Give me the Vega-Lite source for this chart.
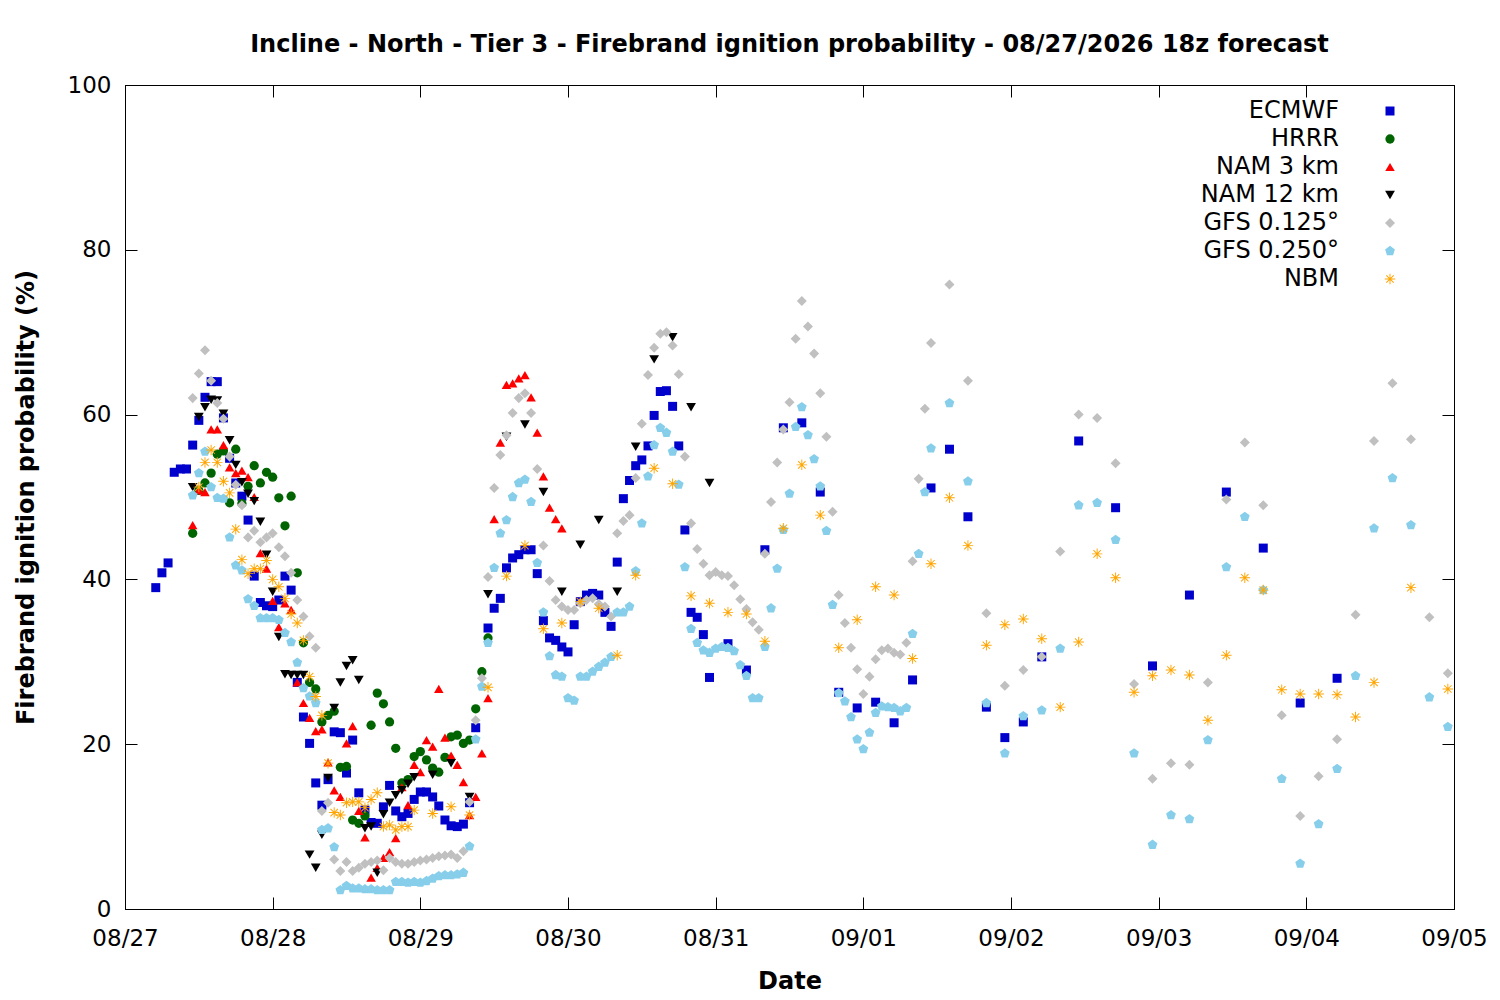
{
  "$schema": "https://vega.github.io/schema/vega-lite/v6.json",
  "width": 1329,
  "height": 824,
  "autosize": "none",
  "padding": {"left": 125, "top": 85, "right": 46, "bottom": 91},
  "background": "white",
  "title": {
    "text": "Incline - North - Tier 3 - Firebrand ignition probability - 08/27/2026 18z forecast",
    "fontSize": 24,
    "fontWeight": "bold",
    "font": "DejaVu Sans",
    "color": "black",
    "anchor": "middle",
    "offset": 17
  },
  "config": {
    "font": "DejaVu Sans",
    "view": {"stroke": "black", "strokeWidth": 1},
    "axis": {
      "grid": false,
      "labelFontSize": 23,
      "labelColor": "black",
      "titleFontSize": 24,
      "titleFontWeight": "bold",
      "titleColor": "black",
      "domainColor": "black",
      "tickColor": "black",
      "tickSize": -12,
      "labelFont": "DejaVu Sans",
      "titleFont": "DejaVu Sans"
    }
  },
  "datasets": {
    "forecast": [
      {"model":"ECMWF","hour":5,"prob":39.0},{"model":"ECMWF","hour":6,"prob":40.8},{"model":"ECMWF","hour":7,"prob":42.0},{"model":"ECMWF","hour":8,"prob":53.0},{"model":"ECMWF","hour":9,"prob":53.4},{"model":"ECMWF","hour":10,"prob":53.4},{"model":"ECMWF","hour":11,"prob":56.3},{"model":"ECMWF","hour":12,"prob":59.3},{"model":"ECMWF","hour":13,"prob":62.1},{"model":"ECMWF","hour":14,"prob":64.0},{"model":"ECMWF","hour":15,"prob":64.0},{"model":"ECMWF","hour":16,"prob":59.6},{"model":"ECMWF","hour":17,"prob":54.7},{"model":"ECMWF","hour":18,"prob":51.7},{"model":"ECMWF","hour":19,"prob":50.1},{"model":"ECMWF","hour":20,"prob":47.2},{"model":"ECMWF","hour":21,"prob":40.4},{"model":"ECMWF","hour":22,"prob":37.2},{"model":"ECMWF","hour":23,"prob":36.8},{"model":"ECMWF","hour":24,"prob":36.7},{"model":"ECMWF","hour":25,"prob":37.5},{"model":"ECMWF","hour":26,"prob":40.4},{"model":"ECMWF","hour":27,"prob":38.7},{"model":"ECMWF","hour":28,"prob":27.5},{"model":"ECMWF","hour":29,"prob":23.3},{"model":"ECMWF","hour":30,"prob":20.1},{"model":"ECMWF","hour":31,"prob":15.3},{"model":"ECMWF","hour":32,"prob":12.6},{"model":"ECMWF","hour":33,"prob":15.7},{"model":"ECMWF","hour":34,"prob":21.5},{"model":"ECMWF","hour":35,"prob":21.4},{"model":"ECMWF","hour":36,"prob":16.5},{"model":"ECMWF","hour":37,"prob":20.5},{"model":"ECMWF","hour":38,"prob":14.1},{"model":"ECMWF","hour":39,"prob":12.0},{"model":"ECMWF","hour":40,"prob":10.5},{"model":"ECMWF","hour":41,"prob":10.4},{"model":"ECMWF","hour":42,"prob":12.4},{"model":"ECMWF","hour":43,"prob":15.0},{"model":"ECMWF","hour":44,"prob":11.9},{"model":"ECMWF","hour":45,"prob":11.2},{"model":"ECMWF","hour":46,"prob":11.6},{"model":"ECMWF","hour":47,"prob":13.3},{"model":"ECMWF","hour":48,"prob":14.2},{"model":"ECMWF","hour":49,"prob":14.2},{"model":"ECMWF","hour":50,"prob":13.6},{"model":"ECMWF","hour":51,"prob":12.5},{"model":"ECMWF","hour":52,"prob":10.8},{"model":"ECMWF","hour":53,"prob":10.1},{"model":"ECMWF","hour":54,"prob":10.0},{"model":"ECMWF","hour":55,"prob":10.3},{"model":"ECMWF","hour":56,"prob":12.9},{"model":"ECMWF","hour":57,"prob":22.0},{"model":"ECMWF","hour":59,"prob":34.1},{"model":"ECMWF","hour":60,"prob":36.5},{"model":"ECMWF","hour":61,"prob":37.7},{"model":"ECMWF","hour":62,"prob":41.4},{"model":"ECMWF","hour":63,"prob":42.6},{"model":"ECMWF","hour":64,"prob":43.0},{"model":"ECMWF","hour":65,"prob":43.6},{"model":"ECMWF","hour":66,"prob":43.6},{"model":"ECMWF","hour":67,"prob":40.7},{"model":"ECMWF","hour":68,"prob":35.0},{"model":"ECMWF","hour":69,"prob":32.9},{"model":"ECMWF","hour":70,"prob":32.6},{"model":"ECMWF","hour":71,"prob":31.8},{"model":"ECMWF","hour":72,"prob":31.2},{"model":"ECMWF","hour":73,"prob":34.5},{"model":"ECMWF","hour":74,"prob":37.3},{"model":"ECMWF","hour":75,"prob":38.1},{"model":"ECMWF","hour":76,"prob":38.3},{"model":"ECMWF","hour":77,"prob":38.1},{"model":"ECMWF","hour":78,"prob":36.0},{"model":"ECMWF","hour":79,"prob":34.3},{"model":"ECMWF","hour":80,"prob":42.1},{"model":"ECMWF","hour":81,"prob":49.8},{"model":"ECMWF","hour":82,"prob":52.0},{"model":"ECMWF","hour":83,"prob":53.8},{"model":"ECMWF","hour":84,"prob":54.5},{"model":"ECMWF","hour":85,"prob":56.2},{"model":"ECMWF","hour":86,"prob":59.9},{"model":"ECMWF","hour":87,"prob":62.8},{"model":"ECMWF","hour":88,"prob":62.9},{"model":"ECMWF","hour":89,"prob":61.0},{"model":"ECMWF","hour":90,"prob":56.2},{"model":"ECMWF","hour":91,"prob":46.0},{"model":"ECMWF","hour":92,"prob":36.0},{"model":"ECMWF","hour":93,"prob":35.4},{"model":"ECMWF","hour":94,"prob":33.3},{"model":"ECMWF","hour":95,"prob":28.1},{"model":"ECMWF","hour":98,"prob":32.2},{"model":"ECMWF","hour":101,"prob":29.0},{"model":"ECMWF","hour":104,"prob":43.6},{"model":"ECMWF","hour":107,"prob":58.4},{"model":"ECMWF","hour":110,"prob":59.0},{"model":"ECMWF","hour":113,"prob":50.6},{"model":"ECMWF","hour":116,"prob":26.3},{"model":"ECMWF","hour":119,"prob":24.4},{"model":"ECMWF","hour":122,"prob":25.1},{"model":"ECMWF","hour":125,"prob":22.6},{"model":"ECMWF","hour":128,"prob":27.8},{"model":"ECMWF","hour":131,"prob":51.1},{"model":"ECMWF","hour":134,"prob":55.8},{"model":"ECMWF","hour":137,"prob":47.6},{"model":"ECMWF","hour":140,"prob":24.5},{"model":"ECMWF","hour":143,"prob":20.8},{"model":"ECMWF","hour":146,"prob":22.7},{"model":"ECMWF","hour":149,"prob":30.6},{"model":"ECMWF","hour":155,"prob":56.8},{"model":"ECMWF","hour":161,"prob":48.7},{"model":"ECMWF","hour":167,"prob":29.5},{"model":"ECMWF","hour":173,"prob":38.1},{"model":"ECMWF","hour":179,"prob":50.6},{"model":"ECMWF","hour":185,"prob":43.8},{"model":"ECMWF","hour":191,"prob":25.0},{"model":"ECMWF","hour":197,"prob":28.0},
      {"model":"HRRR","hour":11,"prob":45.6},{"model":"HRRR","hour":12,"prob":50.8},{"model":"HRRR","hour":13,"prob":51.7},{"model":"HRRR","hour":14,"prob":52.9},{"model":"HRRR","hour":15,"prob":55.2},{"model":"HRRR","hour":16,"prob":55.6},{"model":"HRRR","hour":17,"prob":49.3},{"model":"HRRR","hour":18,"prob":55.8},{"model":"HRRR","hour":19,"prob":49.2},{"model":"HRRR","hour":20,"prob":51.3},{"model":"HRRR","hour":21,"prob":53.8},{"model":"HRRR","hour":22,"prob":51.7},{"model":"HRRR","hour":23,"prob":53.0},{"model":"HRRR","hour":24,"prob":52.4},{"model":"HRRR","hour":25,"prob":49.9},{"model":"HRRR","hour":26,"prob":46.5},{"model":"HRRR","hour":27,"prob":50.1},{"model":"HRRR","hour":28,"prob":40.8},{"model":"HRRR","hour":29,"prob":32.3},{"model":"HRRR","hour":30,"prob":27.5},{"model":"HRRR","hour":31,"prob":26.7},{"model":"HRRR","hour":32,"prob":22.7},{"model":"HRRR","hour":33,"prob":23.5},{"model":"HRRR","hour":34,"prob":24.0},{"model":"HRRR","hour":35,"prob":17.2},{"model":"HRRR","hour":36,"prob":17.3},{"model":"HRRR","hour":37,"prob":10.8},{"model":"HRRR","hour":38,"prob":10.4},{"model":"HRRR","hour":39,"prob":11.3},{"model":"HRRR","hour":40,"prob":22.3},{"model":"HRRR","hour":41,"prob":26.2},{"model":"HRRR","hour":42,"prob":24.9},{"model":"HRRR","hour":43,"prob":22.7},{"model":"HRRR","hour":44,"prob":19.5},{"model":"HRRR","hour":45,"prob":15.3},{"model":"HRRR","hour":46,"prob":15.7},{"model":"HRRR","hour":47,"prob":18.5},{"model":"HRRR","hour":48,"prob":19.1},{"model":"HRRR","hour":49,"prob":18.1},{"model":"HRRR","hour":50,"prob":17.1},{"model":"HRRR","hour":51,"prob":16.6},{"model":"HRRR","hour":52,"prob":18.4},{"model":"HRRR","hour":53,"prob":20.9},{"model":"HRRR","hour":54,"prob":21.1},{"model":"HRRR","hour":55,"prob":20.1},{"model":"HRRR","hour":56,"prob":20.5},{"model":"HRRR","hour":57,"prob":24.3},{"model":"HRRR","hour":58,"prob":28.8},{"model":"HRRR","hour":59,"prob":32.9},
      {"model":"NAM 3 km","hour":11,"prob":46.6},{"model":"NAM 3 km","hour":12,"prob":50.8},{"model":"NAM 3 km","hour":13,"prob":50.6},{"model":"NAM 3 km","hour":14,"prob":58.2},{"model":"NAM 3 km","hour":15,"prob":58.2},{"model":"NAM 3 km","hour":16,"prob":56.3},{"model":"NAM 3 km","hour":17,"prob":53.6},{"model":"NAM 3 km","hour":18,"prob":52.9},{"model":"NAM 3 km","hour":19,"prob":53.2},{"model":"NAM 3 km","hour":20,"prob":52.4},{"model":"NAM 3 km","hour":21,"prob":50.0},{"model":"NAM 3 km","hour":22,"prob":43.2},{"model":"NAM 3 km","hour":23,"prob":41.3},{"model":"NAM 3 km","hour":24,"prob":37.4},{"model":"NAM 3 km","hour":25,"prob":34.2},{"model":"NAM 3 km","hour":26,"prob":37.1},{"model":"NAM 3 km","hour":27,"prob":36.3},{"model":"NAM 3 km","hour":28,"prob":27.5},{"model":"NAM 3 km","hour":29,"prob":25.0},{"model":"NAM 3 km","hour":30,"prob":23.2},{"model":"NAM 3 km","hour":31,"prob":21.6},{"model":"NAM 3 km","hour":32,"prob":21.8},{"model":"NAM 3 km","hour":33,"prob":17.8},{"model":"NAM 3 km","hour":34,"prob":14.4},{"model":"NAM 3 km","hour":35,"prob":13.6},{"model":"NAM 3 km","hour":36,"prob":20.1},{"model":"NAM 3 km","hour":37,"prob":22.2},{"model":"NAM 3 km","hour":38,"prob":11.9},{"model":"NAM 3 km","hour":39,"prob":8.7},{"model":"NAM 3 km","hour":40,"prob":3.8},{"model":"NAM 3 km","hour":41,"prob":5.0},{"model":"NAM 3 km","hour":42,"prob":6.2},{"model":"NAM 3 km","hour":43,"prob":6.9},{"model":"NAM 3 km","hour":44,"prob":8.6},{"model":"NAM 3 km","hour":45,"prob":14.8},{"model":"NAM 3 km","hour":46,"prob":12.6},{"model":"NAM 3 km","hour":47,"prob":17.5},{"model":"NAM 3 km","hour":48,"prob":16.6},{"model":"NAM 3 km","hour":49,"prob":20.5},{"model":"NAM 3 km","hour":50,"prob":19.7},{"model":"NAM 3 km","hour":51,"prob":26.7},{"model":"NAM 3 km","hour":52,"prob":20.8},{"model":"NAM 3 km","hour":53,"prob":18.6},{"model":"NAM 3 km","hour":54,"prob":17.5},{"model":"NAM 3 km","hour":55,"prob":15.4},{"model":"NAM 3 km","hour":56,"prob":11.4},{"model":"NAM 3 km","hour":57,"prob":13.6},{"model":"NAM 3 km","hour":58,"prob":18.9},{"model":"NAM 3 km","hour":59,"prob":25.6},{"model":"NAM 3 km","hour":60,"prob":47.3},{"model":"NAM 3 km","hour":61,"prob":56.6},{"model":"NAM 3 km","hour":62,"prob":63.6},{"model":"NAM 3 km","hour":63,"prob":63.8},{"model":"NAM 3 km","hour":64,"prob":64.4},{"model":"NAM 3 km","hour":65,"prob":64.8},{"model":"NAM 3 km","hour":66,"prob":62.1},{"model":"NAM 3 km","hour":67,"prob":57.8},{"model":"NAM 3 km","hour":68,"prob":52.5},{"model":"NAM 3 km","hour":69,"prob":48.7},{"model":"NAM 3 km","hour":70,"prob":47.3},{"model":"NAM 3 km","hour":71,"prob":46.2},
      {"model":"NAM 12 km","hour":11,"prob":51.2},{"model":"NAM 12 km","hour":12,"prob":59.7},{"model":"NAM 12 km","hour":13,"prob":60.9},{"model":"NAM 12 km","hour":14,"prob":61.8},{"model":"NAM 12 km","hour":15,"prob":61.7},{"model":"NAM 12 km","hour":16,"prob":60.1},{"model":"NAM 12 km","hour":17,"prob":56.9},{"model":"NAM 12 km","hour":18,"prob":53.9},{"model":"NAM 12 km","hour":19,"prob":51.8},{"model":"NAM 12 km","hour":20,"prob":50.4},{"model":"NAM 12 km","hour":21,"prob":49.5},{"model":"NAM 12 km","hour":22,"prob":47.0},{"model":"NAM 12 km","hour":23,"prob":43.0},{"model":"NAM 12 km","hour":24,"prob":38.5},{"model":"NAM 12 km","hour":25,"prob":33.0},{"model":"NAM 12 km","hour":26,"prob":28.5},{"model":"NAM 12 km","hour":27,"prob":28.4},{"model":"NAM 12 km","hour":28,"prob":28.4},{"model":"NAM 12 km","hour":29,"prob":28.4},{"model":"NAM 12 km","hour":30,"prob":6.6},{"model":"NAM 12 km","hour":31,"prob":5.0},{"model":"NAM 12 km","hour":32,"prob":9.0},{"model":"NAM 12 km","hour":33,"prob":15.9},{"model":"NAM 12 km","hour":34,"prob":24.4},{"model":"NAM 12 km","hour":35,"prob":27.5},{"model":"NAM 12 km","hour":36,"prob":29.5},{"model":"NAM 12 km","hour":37,"prob":30.2},{"model":"NAM 12 km","hour":38,"prob":27.8},{"model":"NAM 12 km","hour":39,"prob":9.8},{"model":"NAM 12 km","hour":40,"prob":10.0},{"model":"NAM 12 km","hour":41,"prob":4.4},{"model":"NAM 12 km","hour":42,"prob":11.5},{"model":"NAM 12 km","hour":43,"prob":12.9},{"model":"NAM 12 km","hour":44,"prob":13.8},{"model":"NAM 12 km","hour":45,"prob":14.4},{"model":"NAM 12 km","hour":46,"prob":15.2},{"model":"NAM 12 km","hour":47,"prob":16.0},{"model":"NAM 12 km","hour":50,"prob":16.3},{"model":"NAM 12 km","hour":53,"prob":17.7},{"model":"NAM 12 km","hour":56,"prob":13.6},{"model":"NAM 12 km","hour":59,"prob":38.2},{"model":"NAM 12 km","hour":62,"prob":57.3},{"model":"NAM 12 km","hour":65,"prob":58.8},{"model":"NAM 12 km","hour":68,"prob":50.6},{"model":"NAM 12 km","hour":71,"prob":38.5},{"model":"NAM 12 km","hour":74,"prob":44.2},{"model":"NAM 12 km","hour":77,"prob":47.2},{"model":"NAM 12 km","hour":80,"prob":38.5},{"model":"NAM 12 km","hour":83,"prob":56.1},{"model":"NAM 12 km","hour":86,"prob":66.7},{"model":"NAM 12 km","hour":89,"prob":69.4},{"model":"NAM 12 km","hour":92,"prob":60.9},{"model":"NAM 12 km","hour":95,"prob":51.7},
      {"model":"GFS 0.125°","hour":11,"prob":62.0},{"model":"GFS 0.125°","hour":12,"prob":65.0},{"model":"GFS 0.125°","hour":13,"prob":67.8},{"model":"GFS 0.125°","hour":14,"prob":64.1},{"model":"GFS 0.125°","hour":15,"prob":61.4},{"model":"GFS 0.125°","hour":16,"prob":59.5},{"model":"GFS 0.125°","hour":17,"prob":54.9},{"model":"GFS 0.125°","hour":18,"prob":51.5},{"model":"GFS 0.125°","hour":19,"prob":49.0},{"model":"GFS 0.125°","hour":20,"prob":45.1},{"model":"GFS 0.125°","hour":21,"prob":45.9},{"model":"GFS 0.125°","hour":22,"prob":44.5},{"model":"GFS 0.125°","hour":23,"prob":45.1},{"model":"GFS 0.125°","hour":24,"prob":45.6},{"model":"GFS 0.125°","hour":25,"prob":43.9},{"model":"GFS 0.125°","hour":26,"prob":42.8},{"model":"GFS 0.125°","hour":27,"prob":40.8},{"model":"GFS 0.125°","hour":28,"prob":37.5},{"model":"GFS 0.125°","hour":29,"prob":35.5},{"model":"GFS 0.125°","hour":30,"prob":33.1},{"model":"GFS 0.125°","hour":31,"prob":31.7},{"model":"GFS 0.125°","hour":32,"prob":11.9},{"model":"GFS 0.125°","hour":33,"prob":12.9},{"model":"GFS 0.125°","hour":34,"prob":6.0},{"model":"GFS 0.125°","hour":35,"prob":4.6},{"model":"GFS 0.125°","hour":36,"prob":5.7},{"model":"GFS 0.125°","hour":37,"prob":4.6},{"model":"GFS 0.125°","hour":38,"prob":5.0},{"model":"GFS 0.125°","hour":39,"prob":5.5},{"model":"GFS 0.125°","hour":40,"prob":5.7},{"model":"GFS 0.125°","hour":41,"prob":5.9},{"model":"GFS 0.125°","hour":42,"prob":4.7},{"model":"GFS 0.125°","hour":43,"prob":6.2},{"model":"GFS 0.125°","hour":44,"prob":5.7},{"model":"GFS 0.125°","hour":45,"prob":5.5},{"model":"GFS 0.125°","hour":46,"prob":5.5},{"model":"GFS 0.125°","hour":47,"prob":5.7},{"model":"GFS 0.125°","hour":48,"prob":5.9},{"model":"GFS 0.125°","hour":49,"prob":6.0},{"model":"GFS 0.125°","hour":50,"prob":6.2},{"model":"GFS 0.125°","hour":51,"prob":6.4},{"model":"GFS 0.125°","hour":52,"prob":6.5},{"model":"GFS 0.125°","hour":53,"prob":6.6},{"model":"GFS 0.125°","hour":54,"prob":6.2},{"model":"GFS 0.125°","hour":55,"prob":7.0},{"model":"GFS 0.125°","hour":56,"prob":13.0},{"model":"GFS 0.125°","hour":57,"prob":22.9},{"model":"GFS 0.125°","hour":58,"prob":28.0},{"model":"GFS 0.125°","hour":59,"prob":40.3},{"model":"GFS 0.125°","hour":60,"prob":51.1},{"model":"GFS 0.125°","hour":61,"prob":55.1},{"model":"GFS 0.125°","hour":62,"prob":57.5},{"model":"GFS 0.125°","hour":63,"prob":60.2},{"model":"GFS 0.125°","hour":64,"prob":62.0},{"model":"GFS 0.125°","hour":65,"prob":62.6},{"model":"GFS 0.125°","hour":66,"prob":60.2},{"model":"GFS 0.125°","hour":67,"prob":53.4},{"model":"GFS 0.125°","hour":68,"prob":44.1},{"model":"GFS 0.125°","hour":69,"prob":39.8},{"model":"GFS 0.125°","hour":70,"prob":37.5},{"model":"GFS 0.125°","hour":71,"prob":36.7},{"model":"GFS 0.125°","hour":72,"prob":36.3},{"model":"GFS 0.125°","hour":73,"prob":36.3},{"model":"GFS 0.125°","hour":74,"prob":37.1},{"model":"GFS 0.125°","hour":75,"prob":37.5},{"model":"GFS 0.125°","hour":76,"prob":37.7},{"model":"GFS 0.125°","hour":77,"prob":37.0},{"model":"GFS 0.125°","hour":78,"prob":36.7},{"model":"GFS 0.125°","hour":79,"prob":35.5},{"model":"GFS 0.125°","hour":80,"prob":45.6},{"model":"GFS 0.125°","hour":81,"prob":47.1},{"model":"GFS 0.125°","hour":82,"prob":47.8},{"model":"GFS 0.125°","hour":83,"prob":52.3},{"model":"GFS 0.125°","hour":84,"prob":58.9},{"model":"GFS 0.125°","hour":85,"prob":64.8},{"model":"GFS 0.125°","hour":86,"prob":68.1},{"model":"GFS 0.125°","hour":87,"prob":69.8},{"model":"GFS 0.125°","hour":88,"prob":70.0},{"model":"GFS 0.125°","hour":89,"prob":68.4},{"model":"GFS 0.125°","hour":90,"prob":64.9},{"model":"GFS 0.125°","hour":91,"prob":54.9},{"model":"GFS 0.125°","hour":92,"prob":46.8},{"model":"GFS 0.125°","hour":93,"prob":43.7},{"model":"GFS 0.125°","hour":94,"prob":41.9},{"model":"GFS 0.125°","hour":95,"prob":40.5},{"model":"GFS 0.125°","hour":96,"prob":40.9},{"model":"GFS 0.125°","hour":97,"prob":40.5},{"model":"GFS 0.125°","hour":98,"prob":40.4},{"model":"GFS 0.125°","hour":99,"prob":39.3},{"model":"GFS 0.125°","hour":100,"prob":37.6},{"model":"GFS 0.125°","hour":101,"prob":36.4},{"model":"GFS 0.125°","hour":102,"prob":34.8},{"model":"GFS 0.125°","hour":103,"prob":33.9},{"model":"GFS 0.125°","hour":104,"prob":43.1},{"model":"GFS 0.125°","hour":105,"prob":49.4},{"model":"GFS 0.125°","hour":106,"prob":54.2},{"model":"GFS 0.125°","hour":107,"prob":58.2},{"model":"GFS 0.125°","hour":108,"prob":61.5},{"model":"GFS 0.125°","hour":109,"prob":69.2},{"model":"GFS 0.125°","hour":110,"prob":73.8},{"model":"GFS 0.125°","hour":111,"prob":70.7},{"model":"GFS 0.125°","hour":112,"prob":67.4},{"model":"GFS 0.125°","hour":113,"prob":62.6},{"model":"GFS 0.125°","hour":114,"prob":57.3},{"model":"GFS 0.125°","hour":115,"prob":48.2},{"model":"GFS 0.125°","hour":116,"prob":38.1},{"model":"GFS 0.125°","hour":117,"prob":34.7},{"model":"GFS 0.125°","hour":118,"prob":31.7},{"model":"GFS 0.125°","hour":119,"prob":29.1},{"model":"GFS 0.125°","hour":120,"prob":26.1},{"model":"GFS 0.125°","hour":121,"prob":28.2},{"model":"GFS 0.125°","hour":122,"prob":30.3},{"model":"GFS 0.125°","hour":123,"prob":31.4},{"model":"GFS 0.125°","hour":124,"prob":31.6},{"model":"GFS 0.125°","hour":125,"prob":31.1},{"model":"GFS 0.125°","hour":126,"prob":30.9},{"model":"GFS 0.125°","hour":127,"prob":32.3},{"model":"GFS 0.125°","hour":128,"prob":42.2},{"model":"GFS 0.125°","hour":129,"prob":52.2},{"model":"GFS 0.125°","hour":130,"prob":60.7},{"model":"GFS 0.125°","hour":131,"prob":68.7},{"model":"GFS 0.125°","hour":134,"prob":75.8},{"model":"GFS 0.125°","hour":137,"prob":64.1},{"model":"GFS 0.125°","hour":140,"prob":35.9},{"model":"GFS 0.125°","hour":143,"prob":27.1},{"model":"GFS 0.125°","hour":146,"prob":29.0},{"model":"GFS 0.125°","hour":149,"prob":30.6},{"model":"GFS 0.125°","hour":152,"prob":43.4},{"model":"GFS 0.125°","hour":155,"prob":60.0},{"model":"GFS 0.125°","hour":158,"prob":59.6},{"model":"GFS 0.125°","hour":161,"prob":54.1},{"model":"GFS 0.125°","hour":164,"prob":27.3},{"model":"GFS 0.125°","hour":167,"prob":15.8},{"model":"GFS 0.125°","hour":170,"prob":17.7},{"model":"GFS 0.125°","hour":173,"prob":17.5},{"model":"GFS 0.125°","hour":176,"prob":27.5},{"model":"GFS 0.125°","hour":179,"prob":49.7},{"model":"GFS 0.125°","hour":182,"prob":56.6},{"model":"GFS 0.125°","hour":185,"prob":49.0},{"model":"GFS 0.125°","hour":188,"prob":23.5},{"model":"GFS 0.125°","hour":191,"prob":11.3},{"model":"GFS 0.125°","hour":194,"prob":16.1},{"model":"GFS 0.125°","hour":197,"prob":20.6},{"model":"GFS 0.125°","hour":200,"prob":35.7},{"model":"GFS 0.125°","hour":203,"prob":56.8},{"model":"GFS 0.125°","hour":206,"prob":63.8},{"model":"GFS 0.125°","hour":209,"prob":57.0},{"model":"GFS 0.125°","hour":212,"prob":35.4},{"model":"GFS 0.125°","hour":215,"prob":28.6},
      {"model":"GFS 0.250°","hour":11,"prob":50.2},{"model":"GFS 0.250°","hour":12,"prob":52.9},{"model":"GFS 0.250°","hour":13,"prob":55.5},{"model":"GFS 0.250°","hour":14,"prob":51.2},{"model":"GFS 0.250°","hour":15,"prob":49.9},{"model":"GFS 0.250°","hour":16,"prob":49.8},{"model":"GFS 0.250°","hour":17,"prob":45.1},{"model":"GFS 0.250°","hour":18,"prob":41.7},{"model":"GFS 0.250°","hour":19,"prob":41.1},{"model":"GFS 0.250°","hour":20,"prob":37.6},{"model":"GFS 0.250°","hour":21,"prob":36.8},{"model":"GFS 0.250°","hour":22,"prob":35.3},{"model":"GFS 0.250°","hour":23,"prob":35.3},{"model":"GFS 0.250°","hour":24,"prob":35.3},{"model":"GFS 0.250°","hour":25,"prob":35.1},{"model":"GFS 0.250°","hour":26,"prob":33.5},{"model":"GFS 0.250°","hour":27,"prob":32.4},{"model":"GFS 0.250°","hour":28,"prob":29.9},{"model":"GFS 0.250°","hour":29,"prob":26.8},{"model":"GFS 0.250°","hour":30,"prob":25.8},{"model":"GFS 0.250°","hour":31,"prob":25.0},{"model":"GFS 0.250°","hour":32,"prob":9.6},{"model":"GFS 0.250°","hour":33,"prob":9.8},{"model":"GFS 0.250°","hour":34,"prob":7.5},{"model":"GFS 0.250°","hour":35,"prob":2.3},{"model":"GFS 0.250°","hour":36,"prob":2.8},{"model":"GFS 0.250°","hour":37,"prob":2.5},{"model":"GFS 0.250°","hour":38,"prob":2.5},{"model":"GFS 0.250°","hour":39,"prob":2.4},{"model":"GFS 0.250°","hour":40,"prob":2.4},{"model":"GFS 0.250°","hour":41,"prob":2.3},{"model":"GFS 0.250°","hour":42,"prob":2.3},{"model":"GFS 0.250°","hour":43,"prob":2.3},{"model":"GFS 0.250°","hour":44,"prob":3.3},{"model":"GFS 0.250°","hour":45,"prob":3.3},{"model":"GFS 0.250°","hour":46,"prob":3.2},{"model":"GFS 0.250°","hour":47,"prob":3.3},{"model":"GFS 0.250°","hour":48,"prob":3.2},{"model":"GFS 0.250°","hour":49,"prob":3.4},{"model":"GFS 0.250°","hour":50,"prob":3.7},{"model":"GFS 0.250°","hour":51,"prob":4.0},{"model":"GFS 0.250°","hour":52,"prob":4.1},{"model":"GFS 0.250°","hour":53,"prob":4.1},{"model":"GFS 0.250°","hour":54,"prob":4.2},{"model":"GFS 0.250°","hour":55,"prob":4.4},{"model":"GFS 0.250°","hour":56,"prob":7.6},{"model":"GFS 0.250°","hour":57,"prob":20.6},{"model":"GFS 0.250°","hour":58,"prob":27.0},{"model":"GFS 0.250°","hour":59,"prob":32.3},{"model":"GFS 0.250°","hour":60,"prob":41.4},{"model":"GFS 0.250°","hour":61,"prob":45.6},{"model":"GFS 0.250°","hour":62,"prob":47.2},{"model":"GFS 0.250°","hour":63,"prob":50.0},{"model":"GFS 0.250°","hour":64,"prob":51.7},{"model":"GFS 0.250°","hour":65,"prob":52.1},{"model":"GFS 0.250°","hour":66,"prob":49.4},{"model":"GFS 0.250°","hour":67,"prob":42.0},{"model":"GFS 0.250°","hour":68,"prob":36.0},{"model":"GFS 0.250°","hour":69,"prob":30.7},{"model":"GFS 0.250°","hour":70,"prob":28.4},{"model":"GFS 0.250°","hour":71,"prob":28.2},{"model":"GFS 0.250°","hour":72,"prob":25.6},{"model":"GFS 0.250°","hour":73,"prob":25.3},{"model":"GFS 0.250°","hour":74,"prob":28.2},{"model":"GFS 0.250°","hour":75,"prob":28.2},{"model":"GFS 0.250°","hour":76,"prob":28.8},{"model":"GFS 0.250°","hour":77,"prob":29.4},{"model":"GFS 0.250°","hour":78,"prob":29.9},{"model":"GFS 0.250°","hour":79,"prob":30.6},{"model":"GFS 0.250°","hour":80,"prob":36.0},{"model":"GFS 0.250°","hour":81,"prob":36.0},{"model":"GFS 0.250°","hour":82,"prob":36.7},{"model":"GFS 0.250°","hour":83,"prob":41.0},{"model":"GFS 0.250°","hour":84,"prob":46.8},{"model":"GFS 0.250°","hour":85,"prob":52.5},{"model":"GFS 0.250°","hour":86,"prob":56.3},{"model":"GFS 0.250°","hour":87,"prob":58.4},{"model":"GFS 0.250°","hour":88,"prob":57.8},{"model":"GFS 0.250°","hour":89,"prob":55.5},{"model":"GFS 0.250°","hour":90,"prob":51.5},{"model":"GFS 0.250°","hour":91,"prob":41.5},{"model":"GFS 0.250°","hour":92,"prob":34.0},{"model":"GFS 0.250°","hour":93,"prob":32.3},{"model":"GFS 0.250°","hour":94,"prob":31.4},{"model":"GFS 0.250°","hour":95,"prob":31.1},{"model":"GFS 0.250°","hour":96,"prob":31.6},{"model":"GFS 0.250°","hour":97,"prob":31.8},{"model":"GFS 0.250°","hour":98,"prob":31.7},{"model":"GFS 0.250°","hour":99,"prob":31.3},{"model":"GFS 0.250°","hour":100,"prob":29.6},{"model":"GFS 0.250°","hour":101,"prob":28.3},{"model":"GFS 0.250°","hour":102,"prob":25.6},{"model":"GFS 0.250°","hour":103,"prob":25.6},{"model":"GFS 0.250°","hour":104,"prob":31.8},{"model":"GFS 0.250°","hour":105,"prob":36.5},{"model":"GFS 0.250°","hour":106,"prob":41.3},{"model":"GFS 0.250°","hour":107,"prob":46.0},{"model":"GFS 0.250°","hour":108,"prob":50.4},{"model":"GFS 0.250°","hour":109,"prob":58.5},{"model":"GFS 0.250°","hour":110,"prob":60.9},{"model":"GFS 0.250°","hour":111,"prob":57.5},{"model":"GFS 0.250°","hour":112,"prob":54.6},{"model":"GFS 0.250°","hour":113,"prob":51.3},{"model":"GFS 0.250°","hour":114,"prob":45.9},{"model":"GFS 0.250°","hour":115,"prob":36.9},{"model":"GFS 0.250°","hour":116,"prob":26.2},{"model":"GFS 0.250°","hour":117,"prob":25.2},{"model":"GFS 0.250°","hour":118,"prob":23.3},{"model":"GFS 0.250°","hour":119,"prob":20.6},{"model":"GFS 0.250°","hour":120,"prob":19.4},{"model":"GFS 0.250°","hour":121,"prob":21.4},{"model":"GFS 0.250°","hour":122,"prob":23.8},{"model":"GFS 0.250°","hour":123,"prob":24.6},{"model":"GFS 0.250°","hour":124,"prob":24.5},{"model":"GFS 0.250°","hour":125,"prob":24.4},{"model":"GFS 0.250°","hour":126,"prob":24.0},{"model":"GFS 0.250°","hour":127,"prob":24.4},{"model":"GFS 0.250°","hour":128,"prob":33.4},{"model":"GFS 0.250°","hour":129,"prob":43.1},{"model":"GFS 0.250°","hour":130,"prob":50.6},{"model":"GFS 0.250°","hour":131,"prob":55.9},{"model":"GFS 0.250°","hour":134,"prob":61.4},{"model":"GFS 0.250°","hour":137,"prob":51.9},{"model":"GFS 0.250°","hour":140,"prob":25.0},{"model":"GFS 0.250°","hour":143,"prob":18.9},{"model":"GFS 0.250°","hour":146,"prob":23.4},{"model":"GFS 0.250°","hour":149,"prob":24.1},{"model":"GFS 0.250°","hour":152,"prob":31.6},{"model":"GFS 0.250°","hour":155,"prob":49.0},{"model":"GFS 0.250°","hour":158,"prob":49.3},{"model":"GFS 0.250°","hour":161,"prob":44.8},{"model":"GFS 0.250°","hour":164,"prob":18.9},{"model":"GFS 0.250°","hour":167,"prob":7.8},{"model":"GFS 0.250°","hour":170,"prob":11.4},{"model":"GFS 0.250°","hour":173,"prob":10.9},{"model":"GFS 0.250°","hour":176,"prob":20.5},{"model":"GFS 0.250°","hour":179,"prob":41.5},{"model":"GFS 0.250°","hour":182,"prob":47.6},{"model":"GFS 0.250°","hour":185,"prob":38.7},{"model":"GFS 0.250°","hour":188,"prob":15.8},{"model":"GFS 0.250°","hour":191,"prob":5.5},{"model":"GFS 0.250°","hour":194,"prob":10.3},{"model":"GFS 0.250°","hour":197,"prob":17.0},{"model":"GFS 0.250°","hour":200,"prob":28.3},{"model":"GFS 0.250°","hour":203,"prob":46.2},{"model":"GFS 0.250°","hour":206,"prob":52.3},{"model":"GFS 0.250°","hour":209,"prob":46.6},{"model":"GFS 0.250°","hour":212,"prob":25.7},{"model":"GFS 0.250°","hour":215,"prob":22.1},
      {"model":"NBM","hour":12,"prob":51.2},{"model":"NBM","hour":13,"prob":54.2},{"model":"NBM","hour":14,"prob":55.7},{"model":"NBM","hour":15,"prob":54.2},{"model":"NBM","hour":16,"prob":51.9},{"model":"NBM","hour":17,"prob":50.5},{"model":"NBM","hour":18,"prob":46.1},{"model":"NBM","hour":19,"prob":42.4},{"model":"NBM","hour":20,"prob":40.7},{"model":"NBM","hour":21,"prob":41.3},{"model":"NBM","hour":22,"prob":41.3},{"model":"NBM","hour":23,"prob":42.3},{"model":"NBM","hour":24,"prob":40.0},{"model":"NBM","hour":25,"prob":39.1},{"model":"NBM","hour":26,"prob":37.7},{"model":"NBM","hour":27,"prob":35.8},{"model":"NBM","hour":28,"prob":34.7},{"model":"NBM","hour":29,"prob":32.6},{"model":"NBM","hour":30,"prob":28.2},{"model":"NBM","hour":31,"prob":25.8},{"model":"NBM","hour":32,"prob":23.5},{"model":"NBM","hour":33,"prob":17.7},{"model":"NBM","hour":34,"prob":11.7},{"model":"NBM","hour":35,"prob":11.4},{"model":"NBM","hour":36,"prob":12.9},{"model":"NBM","hour":37,"prob":13.0},{"model":"NBM","hour":38,"prob":13.0},{"model":"NBM","hour":39,"prob":12.3},{"model":"NBM","hour":40,"prob":13.3},{"model":"NBM","hour":41,"prob":14.1},{"model":"NBM","hour":42,"prob":10.0},{"model":"NBM","hour":43,"prob":10.2},{"model":"NBM","hour":44,"prob":9.6},{"model":"NBM","hour":45,"prob":10.0},{"model":"NBM","hour":46,"prob":10.0},{"model":"NBM","hour":47,"prob":12.0},{"model":"NBM","hour":50,"prob":11.6},{"model":"NBM","hour":53,"prob":12.4},{"model":"NBM","hour":56,"prob":11.4},{"model":"NBM","hour":59,"prob":26.9},{"model":"NBM","hour":62,"prob":40.4},{"model":"NBM","hour":65,"prob":44.1},{"model":"NBM","hour":68,"prob":34.0},{"model":"NBM","hour":71,"prob":34.7},{"model":"NBM","hour":74,"prob":37.3},{"model":"NBM","hour":77,"prob":36.5},{"model":"NBM","hour":80,"prob":30.8},{"model":"NBM","hour":83,"prob":40.5},{"model":"NBM","hour":86,"prob":53.5},{"model":"NBM","hour":89,"prob":51.6},{"model":"NBM","hour":92,"prob":38.0},{"model":"NBM","hour":95,"prob":37.1},{"model":"NBM","hour":98,"prob":36.0},{"model":"NBM","hour":101,"prob":35.8},{"model":"NBM","hour":104,"prob":32.5},{"model":"NBM","hour":107,"prob":46.2},{"model":"NBM","hour":110,"prob":53.9},{"model":"NBM","hour":113,"prob":47.8},{"model":"NBM","hour":116,"prob":31.7},{"model":"NBM","hour":119,"prob":35.1},{"model":"NBM","hour":122,"prob":39.1},{"model":"NBM","hour":125,"prob":38.1},{"model":"NBM","hour":128,"prob":30.4},{"model":"NBM","hour":131,"prob":41.9},{"model":"NBM","hour":134,"prob":49.9},{"model":"NBM","hour":137,"prob":44.1},{"model":"NBM","hour":140,"prob":32.0},{"model":"NBM","hour":143,"prob":34.5},{"model":"NBM","hour":146,"prob":35.2},{"model":"NBM","hour":149,"prob":32.8},{"model":"NBM","hour":152,"prob":24.5},{"model":"NBM","hour":155,"prob":32.4},{"model":"NBM","hour":158,"prob":43.1},{"model":"NBM","hour":161,"prob":40.2},{"model":"NBM","hour":164,"prob":26.3},{"model":"NBM","hour":167,"prob":28.3},{"model":"NBM","hour":170,"prob":29.0},{"model":"NBM","hour":173,"prob":28.4},{"model":"NBM","hour":176,"prob":22.9},{"model":"NBM","hour":179,"prob":30.8},{"model":"NBM","hour":182,"prob":40.2},{"model":"NBM","hour":185,"prob":38.7},{"model":"NBM","hour":188,"prob":26.6},{"model":"NBM","hour":191,"prob":26.1},{"model":"NBM","hour":194,"prob":26.1},{"model":"NBM","hour":197,"prob":26.0},{"model":"NBM","hour":200,"prob":23.3},{"model":"NBM","hour":203,"prob":27.5},{"model":"NBM","hour":209,"prob":39.0},{"model":"NBM","hour":215,"prob":26.7}
    ],
    "frame": [{"hour": 0, "prob": 0}]
  },
  "layer": [
    {
      "data": {"name": "forecast"},
      "mark": {"type": "point", "filled": true, "opacity": 1, "strokeWidth": 0},
      "encoding": {
        "x": {
          "field": "hour",
          "type": "quantitative",
          "scale": {"domain": [0, 216], "nice": false, "zero": false},
          "axis": {
            "values": [0, 24, 48, 72, 96, 120, 144, 168, 192, 216],
            "labelExpr": "['08/27','08/28','08/29','08/30','08/31','09/01','09/02','09/03','09/04','09/05'][round(datum.value / 24)]",
            "labelPadding": 30,
            "title": "Date",
            "titlePadding": 19,
            "labelFlush": false
          }
        },
        "y": {
          "field": "prob",
          "type": "quantitative",
          "scale": {"domain": [0, 100], "nice": false},
          "axis": {
            "values": [0, 20, 40, 60, 80, 100],
            "labelPadding": 26,
            "title": "Firebrand ignition probability (%)",
            "titlePadding": 29
          }
        },
        "color": {
          "field": "model",
          "type": "nominal",
          "sort": null,
          "scale": {
            "domain": ["ECMWF", "HRRR", "NAM 3 km", "NAM 12 km", "GFS 0.125°", "GFS 0.250°", "NBM"],
            "range": ["#0000cc", "#006400", "#ff0000", "#000000", "#c0c0c0", "#87ceeb", "#ffa500"]
          },
          "legend": {
            "title": null,
            "orient": "none",
            "legendX": 1253,
            "legendY": 14,
            "labelAlign": "right",
            "labelOffset": -63,
            "labelFontSize": 24,
            "labelColor": "black",
            "labelFont": "DejaVu Sans",
            "symbolSize": 60,
            "rowPadding": 4,
            "labelLimit": 400
          }
        },
        "shape": {
          "field": "model",
          "type": "nominal",
          "sort": null,
          "scale": {
            "domain": ["ECMWF", "HRRR", "NAM 3 km", "NAM 12 km", "GFS 0.125°", "GFS 0.250°", "NBM"],
            "range": [
              "square",
              "circle",
              "triangle-up",
              "triangle-down",
              "diamond",
              "M0,-1L0.951,-0.309L0.588,0.809L-0.588,0.809L-0.951,-0.309Z",
              "M-1,-0.09L1,-0.09L1,0.09L-1,0.09ZM0.09,-1L0.09,1L-0.09,1L-0.09,-1ZM-0.643,-0.771L0.771,0.643L0.643,0.771L-0.771,-0.643ZM-0.771,0.643L0.643,-0.771L0.771,-0.643L-0.643,0.771Z"
            ]
          }
        },
        "size": {
          "field": "model",
          "type": "nominal",
          "scale": {
            "domain": ["ECMWF", "HRRR", "NAM 3 km", "NAM 12 km", "GFS 0.125°", "GFS 0.250°", "NBM"],
            "range": [81, 110, 120, 120, 130, 110, 150]
          },
          "legend": null
        }
      }
    },
    {
      "data": {"name": "frame"},
      "mark": {"type": "point", "opacity": 0},
      "encoding": {
        "x": {
          "field": "hour",
          "type": "quantitative",
          "axis": {
            "orient": "top",
            "values": [0, 24, 48, 72, 96, 120, 144, 168, 192, 216],
            "labels": false,
            "title": null
          }
        },
        "y": {
          "field": "prob",
          "type": "quantitative",
          "axis": {
            "orient": "right",
            "values": [0, 20, 40, 60, 80, 100],
            "labels": false,
            "title": null
          }
        }
      }
    }
  ],
  "resolve": {"axis": {"x": "independent", "y": "independent"}}
}
